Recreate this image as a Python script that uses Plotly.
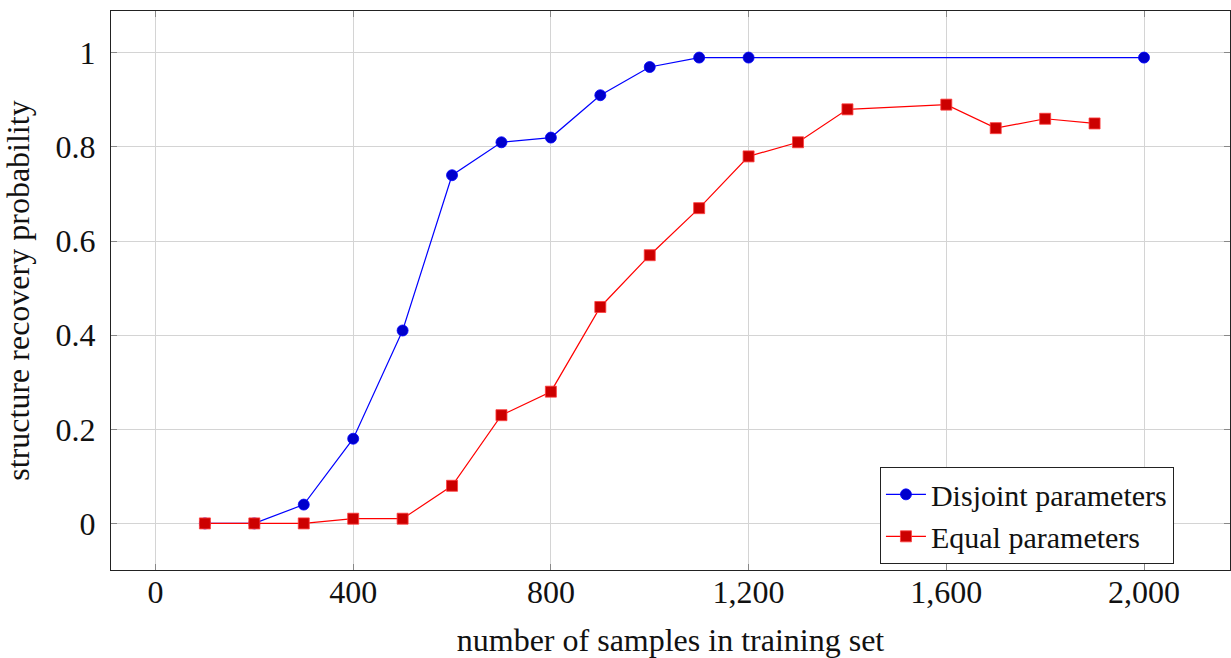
import plotly.graph_objects as go

disjoint_x = [100, 200, 300, 400, 500, 600, 700, 800, 900, 1000, 1100, 1200, 2000]
disjoint_y = [0, 0, 0.04, 0.18, 0.41, 0.74, 0.81, 0.82, 0.91, 0.97, 0.99, 0.99, 0.99]

equal_x = [100, 200, 300, 400, 500, 600, 700, 800, 900, 1000, 1100, 1200, 1300, 1400, 1600, 1700, 1800, 1900]
equal_y = [0, 0, 0, 0.01, 0.01, 0.08, 0.23, 0.28, 0.46, 0.57, 0.67, 0.78, 0.81, 0.88, 0.89, 0.84, 0.86, 0.85]

x_ticks = [0, 400, 800, 1200, 1600, 2000]
y_ticks = [0, 0.2, 0.4, 0.6, 0.8, 1]

FONT = "Liberation Serif"
FS = 32

fig = go.Figure()
fig.add_trace(go.Scatter(
    x=disjoint_x, y=disjoint_y, mode="lines+markers", name="Disjoint parameters",
    line=dict(color="rgb(0,0,255)", width=1.2),
    marker=dict(symbol="circle", size=11, color="rgb(0,0,204)", line=dict(color="rgb(0,0,255)", width=0.8)),
))
fig.add_trace(go.Scatter(
    x=equal_x, y=equal_y, mode="lines+markers", name="Equal parameters",
    line=dict(color="rgb(255,0,0)", width=1.2),
    marker=dict(symbol="square", size=11, color="rgb(204,0,0)", line=dict(color="rgb(255,60,60)", width=0.8)),
))

axis_common = dict(
    showline=True, linecolor="#222", linewidth=1.2, mirror="ticks",
    ticks="inside", ticklen=6, tickcolor="#888", tickwidth=1,
    showgrid=True, gridcolor="#d4d4d4", gridwidth=1, zeroline=False,
    tickfont=dict(family=FONT, size=FS, color="#111"),
)

fig.update_layout(
    width=1231, height=658,
    margin=dict(l=111, r=1, t=11, b=88),
    paper_bgcolor="white", plot_bgcolor="white",
    font=dict(family=FONT, color="#111"),
    xaxis=dict(range=[-90, 2174], tickvals=x_ticks, tickformat=",d",
               ticklabelstandoff=-7,
               title=dict(text="number of samples in training set", font=dict(family=FONT, size=FS), standoff=21),
               **axis_common),
    yaxis=dict(range=[-0.099, 1.089], tickvals=y_ticks, ticklabelstandoff=8,
               title=dict(text="structure recovery probability", font=dict(family=FONT, size=FS), standoff=16),
               **axis_common),
    legend=dict(x=0.687, y=0.184, xanchor="left", yanchor="top",
                bordercolor="#222", borderwidth=1.2, bgcolor="white",
                font=dict(family=FONT, size=30), tracegroupgap=0,
                itemwidth=40),
    showlegend=True,
)

fig.write_html("out.html")
